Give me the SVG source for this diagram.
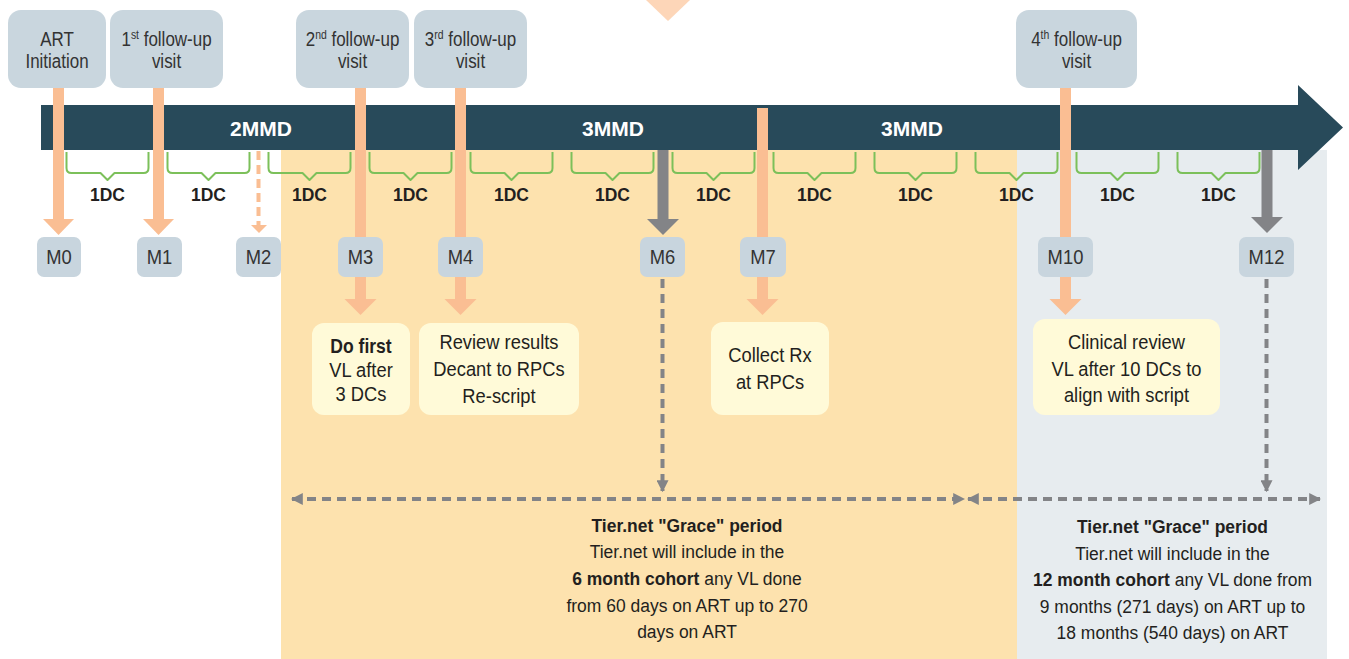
<svg xmlns="http://www.w3.org/2000/svg" width="1349" height="659" viewBox="0 0 1349 659">
  <defs>
    <style>
      .n { font-family: "Liberation Sans", Arial, sans-serif; fill: #2b2b2b; text-anchor: middle; }
      .top { font-size: 19.5px; fill: #333333; }
      .mlab { font-size: 20px; fill: #333333; }
      .act { font-size: 19.5px; fill: #231f20; }
      .note { font-size: 19px; fill: #231f20; }
      .b { font-weight: bold; }
      .phase { font-family: "Liberation Sans", Arial, sans-serif; font-weight: bold; font-size: 21px; fill: #ffffff; text-anchor: middle; }
      .dc { font-family: "Liberation Sans", Arial, sans-serif; font-weight: bold; font-size: 17.5px; fill: #231f20; text-anchor: middle; }
      .visit { fill: #c9d6de; }
      .mbox { fill: #c8d5de; }
      .abox { fill: #fffad8; }
      .brace { fill: none; stroke: #7cc05a; stroke-width: 2; stroke-linejoin: round; }
      .oline { stroke: #fabe93; stroke-width: 11; fill: none; }
      .ohead { fill: #fabe93; }
      .gline { stroke: #838487; stroke-width: 11; fill: none; }
      .ghead { fill: #838487; }
      .dash { stroke: #838487; stroke-width: 4; stroke-dasharray: 9 6; fill: none; }
    </style>
    <path id="brace" d="M66.5 152 V168 Q66.5 173 71.5 173 H100.5 L107.5 180 L114.5 173 H143.5 Q148.5 173 148.5 168 V152"/>
    <marker id="arrEnd" viewBox="0 0 10 10" refX="9" refY="5" markerWidth="3" markerHeight="3" orient="auto" markerUnits="strokeWidth">
      <path d="M0 0 L10 5 L0 10 Z" fill="#838487"/>
    </marker>
    <marker id="arrStart" viewBox="0 0 10 10" refX="1" refY="5" markerWidth="3" markerHeight="3" orient="auto" markerUnits="strokeWidth">
      <path d="M10 0 L0 5 L10 10 Z" fill="#838487"/>
    </marker>
  </defs>

  <!-- background bands -->
  <rect x="281" y="140" width="736" height="519" fill="#fde2ae"/>
  <rect x="1017" y="150" width="310" height="509" fill="#e7ecef"/>
  <polygon points="646,0 690,0 668,21" fill="#fdd6b8"/>

  <!-- timeline arrow -->
  <g id="timeline">
    <path d="M41 105 H1298 V85 L1343 127.5 L1298 170 V150 H41 Z" fill="#284a5a"/>
    <text class="phase" x="261" y="136">2MMD</text>
    <text class="phase" x="613" y="136">3MMD</text>
    <text class="phase" x="912" y="136">3MMD</text>
  </g>

  <!-- dispensing cycle braces -->
  <g id="braces">
    <use href="#brace" class="brace"/>
    <use href="#brace" class="brace" x="101"/>
    <use href="#brace" class="brace" x="202"/>
    <use href="#brace" class="brace" x="303"/>
    <use href="#brace" class="brace" x="404"/>
    <use href="#brace" class="brace" x="505"/>
    <use href="#brace" class="brace" x="606"/>
    <use href="#brace" class="brace" x="707"/>
    <use href="#brace" class="brace" x="808"/>
    <use href="#brace" class="brace" x="909"/>
    <use href="#brace" class="brace" x="1010"/>
    <use href="#brace" class="brace" x="1111"/>
    <text class="dc" x="107.5" y="201">1DC</text>
    <text class="dc" x="208.5" y="201">1DC</text>
    <text class="dc" x="309.5" y="201">1DC</text>
    <text class="dc" x="410.5" y="201">1DC</text>
    <text class="dc" x="511.5" y="201">1DC</text>
    <text class="dc" x="612.5" y="201">1DC</text>
    <text class="dc" x="713.5" y="201">1DC</text>
    <text class="dc" x="814.5" y="201">1DC</text>
    <text class="dc" x="915.5" y="201">1DC</text>
    <text class="dc" x="1016.5" y="201">1DC</text>
    <text class="dc" x="1117.5" y="201">1DC</text>
    <text class="dc" x="1218.5" y="201">1DC</text>
  </g>

  <!-- connectors -->
  <g id="connectors">
    <!-- visit markers down to month markers -->
    <line class="oline" x1="58.5" y1="86" x2="58.5" y2="220"/>
    <polygon class="ohead" points="43,219 74,219 58.5,235"/>
    <line class="oline" x1="158.5" y1="86" x2="158.5" y2="220"/>
    <polygon class="ohead" points="143,219 174,219 158.5,235"/>
    <line x1="258.5" y1="151" x2="258.5" y2="226" stroke="#fabe93" stroke-width="4" stroke-dasharray="9 5"/>
    <polygon class="ohead" points="251,225 267,225 259,233"/>
    <line class="oline" x1="360.5" y1="86" x2="360.5" y2="300"/>
    <polygon class="ohead" points="344.5,299 376.5,299 360.5,315"/>
    <line class="oline" x1="460.5" y1="86" x2="460.5" y2="300"/>
    <polygon class="ohead" points="444.5,299 476.5,299 460.5,315"/>
    <line class="oline" x1="762.5" y1="108" x2="762.5" y2="300"/>
    <polygon class="ohead" points="746.5,299 778.5,299 762.5,315"/>
    <line class="oline" x1="1065.5" y1="86" x2="1065.5" y2="300"/>
    <polygon class="ohead" points="1049.5,299 1081.5,299 1065.5,315"/>
    <!-- viral load months -->
    <line class="gline" x1="663" y1="150" x2="663" y2="220"/>
    <polygon class="ghead" points="647,219 679,219 663,235"/>
    <line class="gline" x1="1267" y1="150" x2="1267" y2="218"/>
    <polygon class="ghead" points="1251,217 1283,217 1267,233"/>
    <!-- grace periods -->
    <line class="dash" x1="662.5" y1="279" x2="662.5" y2="491" marker-end="url(#arrEnd)"/>
    <line class="dash" x1="1266.5" y1="279" x2="1266.5" y2="491" marker-end="url(#arrEnd)"/>
    <line class="dash" x1="292" y1="499" x2="964" y2="499" marker-start="url(#arrStart)" marker-end="url(#arrEnd)"/>
    <line class="dash" x1="968" y1="499" x2="1320" y2="499" marker-start="url(#arrStart)" marker-end="url(#arrEnd)"/>
  </g>

  <!-- visits -->
  <g id="visit-art">
    <rect class="visit" x="8" y="10" width="98" height="78" rx="13"/>
    <text class="n top" transform="translate(57 46) scale(0.87 1)">ART</text>
    <text class="n top" transform="translate(57 68) scale(0.87 1)">Initiation</text>
  </g>
  <g id="visit-1">
    <rect class="visit" x="110" y="10" width="113" height="78" rx="13"/>
    <text class="n top" transform="translate(166.5 46) scale(0.87 1)">1<tspan font-size="12" dy="-7">st</tspan><tspan dy="7"> follow-up</tspan></text>
    <text class="n top" transform="translate(166.5 68) scale(0.87 1)">visit</text>
  </g>
  <g id="visit-2">
    <rect class="visit" x="296" y="10" width="113" height="78" rx="13"/>
    <text class="n top" transform="translate(352.5 46) scale(0.87 1)">2<tspan font-size="12" dy="-7">nd</tspan><tspan dy="7"> follow-up</tspan></text>
    <text class="n top" transform="translate(352.5 68) scale(0.87 1)">visit</text>
  </g>
  <g id="visit-3">
    <rect class="visit" x="414" y="10" width="113" height="78" rx="13"/>
    <text class="n top" transform="translate(470.5 46) scale(0.87 1)">3<tspan font-size="12" dy="-7">rd</tspan><tspan dy="7"> follow-up</tspan></text>
    <text class="n top" transform="translate(470.5 68) scale(0.87 1)">visit</text>
  </g>
  <g id="visit-4">
    <rect class="visit" x="1016" y="10" width="121" height="78" rx="13"/>
    <text class="n top" transform="translate(1076.5 46) scale(0.87 1)">4<tspan font-size="12" dy="-7">th</tspan><tspan dy="7"> follow-up</tspan></text>
    <text class="n top" transform="translate(1076.5 68) scale(0.87 1)">visit</text>
  </g>

  <!-- months -->
  <g id="m0"><rect class="mbox" x="37" y="237" width="44" height="40" rx="7"/><text class="n mlab" transform="translate(59 264) scale(0.92 1)">M0</text></g>
  <g id="m1"><rect class="mbox" x="137" y="237" width="45" height="40" rx="7"/><text class="n mlab" transform="translate(159.5 264) scale(0.92 1)">M1</text></g>
  <g id="m2"><rect class="mbox" x="236" y="237" width="45" height="40" rx="7"/><text class="n mlab" transform="translate(258.5 264) scale(0.92 1)">M2</text></g>
  <g id="m3"><rect class="mbox" x="338" y="237" width="45" height="40" rx="7"/><text class="n mlab" transform="translate(360.5 264) scale(0.92 1)">M3</text></g>
  <g id="m4"><rect class="mbox" x="438" y="237" width="45" height="40" rx="7"/><text class="n mlab" transform="translate(460.5 264) scale(0.92 1)">M4</text></g>
  <g id="m6"><rect class="mbox" x="640" y="237" width="45" height="40" rx="7"/><text class="n mlab" transform="translate(662.5 264) scale(0.92 1)">M6</text></g>
  <g id="m7"><rect class="mbox" x="740" y="237" width="46" height="40" rx="7"/><text class="n mlab" transform="translate(763 264) scale(0.92 1)">M7</text></g>
  <g id="m10"><rect class="mbox" x="1038" y="237" width="55" height="40" rx="7"/><text class="n mlab" transform="translate(1065.5 264) scale(0.92 1)">M10</text></g>
  <g id="m12"><rect class="mbox" x="1239" y="237" width="55" height="40" rx="7"/><text class="n mlab" transform="translate(1266.5 264) scale(0.92 1)">M12</text></g>

  <!-- actions -->
  <g id="act-vl">
    <rect class="abox" x="312" y="323" width="98" height="92" rx="12"/>
    <text class="n act b" transform="translate(361 353) scale(0.9 1)">Do first</text>
    <text class="n act" transform="translate(361 377) scale(0.94 1)">VL after</text>
    <text class="n act" transform="translate(361 401) scale(0.94 1)">3 DCs</text>
  </g>
  <g id="act-review">
    <rect class="abox" x="419" y="323" width="160" height="92" rx="12"/>
    <text class="n act" transform="translate(499 349) scale(0.94 1)">Review results</text>
    <text class="n act" transform="translate(499 376) scale(0.94 1)">Decant to RPCs</text>
    <text class="n act" transform="translate(499 403) scale(0.94 1)">Re-script</text>
  </g>
  <g id="act-collect">
    <rect class="abox" x="711" y="322" width="118" height="93" rx="12"/>
    <text class="n act" transform="translate(770 362) scale(0.94 1)">Collect Rx</text>
    <text class="n act" transform="translate(770 389) scale(0.94 1)">at RPCs</text>
  </g>
  <g id="act-clinical">
    <rect class="abox" x="1033" y="319" width="187" height="96" rx="12"/>
    <text class="n act" transform="translate(1126.5 349) scale(0.94 1)">Clinical review</text>
    <text class="n act" transform="translate(1126.5 376) scale(0.94 1)">VL after 10 DCs to</text>
    <text class="n act" transform="translate(1126.5 402) scale(0.94 1)">align with script</text>
  </g>

  <!-- grace period notes -->
  <g id="grace-6">
    <text class="n note b" transform="translate(687 532) scale(0.92 1)">Tier.net "Grace" period</text>
    <text class="n note" transform="translate(687 558) scale(0.92 1)">Tier.net will include in the</text>
    <text class="n note" transform="translate(687 585) scale(0.92 1)"><tspan font-weight="bold">6 month cohort</tspan> any VL done</text>
    <text class="n note" transform="translate(687 612) scale(0.92 1)">from 60 days on ART up to 270</text>
    <text class="n note" transform="translate(687 638) scale(0.92 1)">days on ART</text>
  </g>
  <g id="grace-12">
    <text class="n note b" transform="translate(1172.5 533) scale(0.92 1)">Tier.net "Grace" period</text>
    <text class="n note" transform="translate(1172.5 560) scale(0.92 1)">Tier.net will include in the</text>
    <text class="n note" transform="translate(1172.5 586) scale(0.92 1)"><tspan font-weight="bold">12 month cohort</tspan> any VL done from</text>
    <text class="n note" transform="translate(1172.5 613) scale(0.92 1)">9 months (271 days) on ART up to</text>
    <text class="n note" transform="translate(1172.5 639) scale(0.92 1)">18 months (540 days) on ART</text>
  </g>
</svg>
